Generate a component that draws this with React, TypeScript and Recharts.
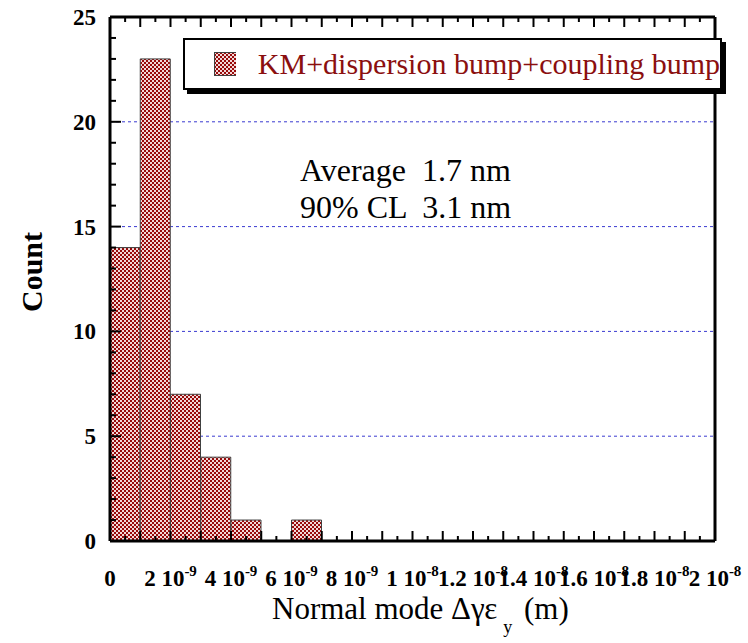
import { BarChart, Bar, XAxis, YAxis, CartesianGrid, Legend, Customized } from "recharts";

// histogram bins, 1e-9 m wide, from 0 to 2e-8 m
const binStarts = [0, 1, 2, 3, 4, 5, 6, 7, 8, 9, 10, 11, 12, 13, 14, 15, 16, 17, 18, 19];
const counts = [14, 23, 7, 4, 1, 0, 1, 0, 0, 0, 0, 0, 0, 0, 0, 0, 0, 0, 0, 0];
const xTicks = Array.from({ length: 41 }, (_, i) => i / 2);
const yTicks = Array.from({ length: 26 }, (_, i) => i);
const gridValues = [5, 10, 15, 20];
const seriesName = "KM+dispersion bump+coupling bump";
const statLines = ["Average  1.7 nm", "90% CL  3.1 nm"];

const data = binStarts.map((b, i) => ({ bin: String(b), mid: b + 0.5, count: counts[i] }));

const SERIF = "'Liberation Serif', 'Times New Roman', serif";
const RED = "#980a0a";
const LIGHT = "#f2d8d8";

const xLabel = (v: number) => {
  if (v === 0) return { main: "0", exp: "" };
  if (v < 10) return { main: `${v} 10`, exp: "-9" };
  return { main: `${v / 10} 10`, exp: "-8" };
};

const BottomTick = (props: any) => {
  const { x, y, payload } = props;
  const v = payload.value as number;
  const major = Number.isInteger(v);
  const lab = major && v % 2 === 0 ? xLabel(v) : null;
  return (
    <g>
      <line x1={x} x2={x} y1={y} y2={y - (major ? 10 : 5)} stroke="#000" strokeWidth={2} />
      {lab && (
        <text x={x} y={y + 45} textAnchor="middle" fontFamily={SERIF} fontWeight="bold" fontSize={23} fill="#000">
          <tspan>{lab.main}</tspan>
          {lab.exp && (
            <tspan dy={-10} fontSize={15}>
              {lab.exp}
            </tspan>
          )}
        </text>
      )}
    </g>
  );
};

const TopTick = (props: any) => {
  const { x, y, payload } = props;
  const major = Number.isInteger(payload.value);
  return <line x1={x} x2={x} y1={y} y2={y + (major ? 10 : 5)} stroke="#000" strokeWidth={2} />;
};

const LeftTick = (props: any) => {
  const { x, y, payload } = props;
  const v = payload.value as number;
  const major = v % 5 === 0;
  return (
    <g>
      <line x1={x} x2={x + (major ? 11 : 6)} y1={y} y2={y} stroke="#000" strokeWidth={2} />
      {major && (
        <text x={x - 14} y={y + 8} textAnchor="end" fontFamily={SERIF} fontWeight="bold" fontSize={23} fill="#000">
          {v}
        </text>
      )}
    </g>
  );
};

const RightTick = (props: any) => {
  const { x, y, payload } = props;
  const major = payload.value % 5 === 0;
  return <line x1={x} x2={x - (major ? 11 : 6)} y1={y} y2={y} stroke="#000" strokeWidth={2} />;
};

const Checker = ({ id }: { id: string }) => (
  <pattern id={id} width={4} height={4} patternUnits="userSpaceOnUse">
    <rect width={4} height={4} fill={RED} />
    <rect x={0} y={0} width={2} height={2} fill={LIGHT} />
    <rect x={2} y={2} width={2} height={2} fill={LIGHT} />
  </pattern>
);

const LegendBox = (props: any) => {
  const item = props.payload?.[0];
  return (
    <div
      style={{
        width: 539,
        height: 52,
        boxSizing: "border-box",
        border: "2px solid #000",
        background: "#fff",
        boxShadow: "4px 4px 0 #000",
        display: "flex",
        alignItems: "center",
        paddingLeft: 29,
      }}
    >
      <svg width={24} height={24} style={{ display: "block" }}>
        <defs>
          <Checker id="chkLegend" />
        </defs>
        <rect x={0.5} y={0.5} width={23} height={23} fill="url(#chkLegend)" stroke="#404040" strokeWidth={1} />
      </svg>
      <span style={{ marginLeft: 22, fontFamily: SERIF, fontSize: 30, color: "#8b0f0f", whiteSpace: "nowrap" }}>
        {item ? item.value : seriesName}
      </span>
    </div>
  );
};

const Stats = () => (
  <g>
    {statLines.map((s, i) => (
      <text key={i} x={300} y={181 + i * 37} fontFamily={SERIF} fontSize={32} fill="#000" style={{ whiteSpace: "pre" }}>
        {s}
      </text>
    ))}
  </g>
);

const AxisTitles = () => (
  <g>
    <text
      x={0}
      y={0}
      transform="translate(42, 272) rotate(-90)"
      textAnchor="middle"
      fontFamily={SERIF}
      fontWeight="bold"
      fontSize={30}
      fill="#000"
    >
      Count
    </text>
    <text x={272} y={619} fontFamily={SERIF} fontSize={31} fill="#000" style={{ whiteSpace: "pre" }}>
      <tspan>Normal mode Δγε</tspan>
      <tspan dx={6} dy={14} fontSize={18}>
        y
      </tspan>
      <tspan dx={4} dy={-14}>
        {" (m)"}
      </tspan>
    </text>
  </g>
);

export default function App() {
  return (
    <div style={{ position: "relative", width: 748, height: 643 }}>
      <style>{"body{margin:0;background:#fff}"}</style>
      <BarChart width={748} height={643} data={data} margin={{ top: 0, right: 0, bottom: 0, left: 0 }} barCategoryGap={0} barGap={0}>
        <defs>
          <Checker id="chkBar" />
        </defs>
        <CartesianGrid
          xAxisId="num"
          yAxisId="left"
          vertical={false}
          horizontalValues={gridValues}
          stroke="#3a3ad0"
          strokeDasharray="3 3"
          strokeWidth={1}
        />
        <XAxis
          xAxisId="num"
          dataKey="mid"
          type="number"
          domain={[0, 20]}
          allowDataOverflow
          ticks={xTicks}
          interval={0}
          height={102}
          tickSize={0}
          tickMargin={0}
          tickLine={false}
          axisLine={{ stroke: "#000", strokeWidth: 3 }}
          tick={BottomTick}
        />
        <XAxis xAxisId="cat" dataKey="bin" hide height={0} />
        <XAxis
          xAxisId="top"
          orientation="top"
          dataKey="mid"
          type="number"
          domain={[0, 20]}
          allowDataOverflow
          ticks={xTicks}
          interval={0}
          height={17}
          tickSize={0}
          tickMargin={0}
          tickLine={false}
          axisLine={{ stroke: "#000", strokeWidth: 3 }}
          tick={TopTick}
        />
        <YAxis
          yAxisId="left"
          type="number"
          domain={[0, 25]}
          ticks={yTicks}
          interval={0}
          width={110}
          tickSize={0}
          tickMargin={0}
          tickLine={false}
          axisLine={{ stroke: "#000", strokeWidth: 3 }}
          tick={LeftTick}
        />
        <YAxis
          yAxisId="right"
          orientation="right"
          type="number"
          domain={[0, 25]}
          ticks={yTicks}
          interval={0}
          width={33}
          tickSize={0}
          tickMargin={0}
          tickLine={false}
          axisLine={{ stroke: "#000", strokeWidth: 3 }}
          tick={RightTick}
        />
        <Bar
          xAxisId="cat"
          yAxisId="left"
          dataKey="count"
          name={seriesName}
          fill="url(#chkBar)"
          stroke="#404040"
          strokeWidth={1}
          isAnimationActive={false}
        />
        <Legend
          layout="horizontal"
          verticalAlign="middle"
          align="center"
          wrapperStyle={{ left: 183, top: 38, width: 545 }}
          content={LegendBox}
        />
        <Customized component={Stats} />
        <Customized component={AxisTitles} />
      </BarChart>
    </div>
  );
}
